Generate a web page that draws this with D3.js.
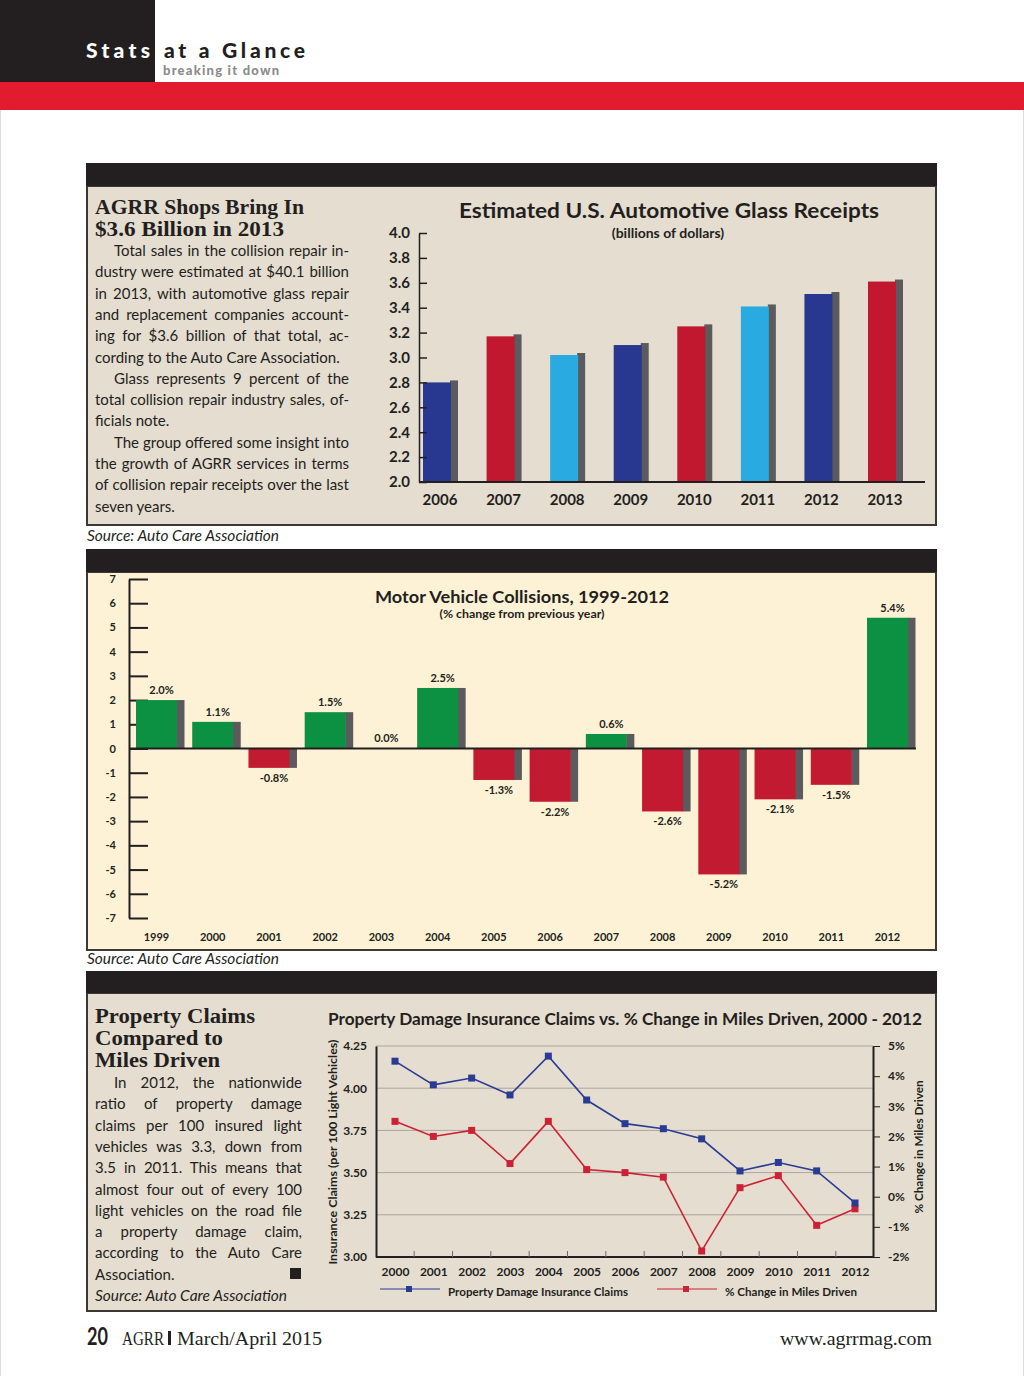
<!DOCTYPE html>
<html>
<head>
<meta charset="utf-8">
<script src="https://cdn.jsdelivr.net/npm/d3@7"></script>
<style>
  body { margin: 0; background: #fff; }
  svg { display: block; }
</style>
</head>
<body>
<div id="page"></div>
<script>
// ---- data ----
const glassYears = ["2006", "2007", "2008", "2009", "2010", "2011", "2012", "2013"];
const glassValues = [2.80, 3.17, 3.02, 3.10, 3.25, 3.41, 3.51, 3.61];
const glassTicks = [2.0, 2.2, 2.4, 2.6, 2.8, 3.0, 3.2, 3.4, 3.6, 3.8, 4.0];

const collisionYears = ["1999", "2000", "2001", "2002", "2003", "2004", "2005",
  "2006", "2007", "2008", "2009", "2010", "2011", "2012"];
const collisionValues = [2.0, 1.1, -0.8, 1.5, 0.0, 2.5, -1.3, -2.2, 0.6, -2.6, -5.2, -2.1, -1.5, 5.4];
const collisionTicks = [7, 6, 5, 4, 3, 2, 1, 0, -1, -2, -3, -4, -5, -6, -7];

const claimYears = ["2000", "2001", "2002", "2003", "2004", "2005", "2006",
  "2007", "2008", "2009", "2010", "2011", "2012"];
const claimValues = [4.16, 4.02, 4.06, 3.96, 4.19, 3.93, 3.79, 3.76, 3.70, 3.51, 3.56, 3.51, 3.32];
const milesValues = [2.5, 2.0, 2.2, 1.1, 2.5, 0.9, 0.8, 0.65, -1.8, 0.3, 0.7, -0.95, -0.4];
const claimTicks = [3.00, 3.25, 3.50, 3.75, 4.00, 4.25];
const milesTicks = [-2, -1, 0, 1, 2, 3, 4, 5];

const story1 = [
  { t: "Total sales in the collision repair in-", indent: true, j: true },
  { t: "dustry were estimated at $40.1 billion", j: true },
  { t: "in 2013, with automotive glass repair", j: true },
  { t: "and replacement companies account-", j: true },
  { t: "ing for $3.6 billion of that total, ac-", j: true },
  { t: "cording to the Auto Care Association.", j: false },
  { t: "Glass represents 9 percent of the", indent: true, j: true },
  { t: "total collision repair industry sales, of-", j: true },
  { t: "ficials note.", j: false },
  { t: "The group offered some insight into", indent: true, j: true },
  { t: "the growth of AGRR services in terms", j: true },
  { t: "of collision repair receipts over the last", j: true },
  { t: "seven years.", j: false }
];
const story3 = [
  { t: "In 2012, the nationwide", indent: true, j: true },
  { t: "ratio of property damage", j: true },
  { t: "claims per 100 insured light", j: true },
  { t: "vehicles was 3.3, down from", j: true },
  { t: "3.5 in 2011. This means that", j: true },
  { t: "almost four out of every 100", j: true },
  { t: "light vehicles on the road file", j: true },
  { t: "a property damage claim,", j: true },
  { t: "according to the Auto Care", j: true },
  { t: "Association.", j: false }
];

// ---- styles ----
const ink = "#231f20";
const beige = "#e5ddd0";
const cream = "#fdf2d5";
const shadowGray = "#5b5a5c";
const glassPalette = ["#283891", "#c1172f", "#29aae1"];
const green = "#0c9142";
const red = "#c21a30";
const chartFont = "Lato, 'Open Sans', sans-serif";
const serif = "'Liberation Serif', 'DejaVu Serif', serif";

const svg = d3.select("#page").append("svg")
  .attr("width", 1024)
  .attr("height", 1376)
  .style("background", "#fff");

// page edges
svg.append("line").attr("x1", 0.5).attr("x2", 0.5).attr("y1", 110).attr("y2", 1376)
  .attr("stroke", "#ddd");
svg.append("line").attr("x1", 1023.5).attr("x2", 1023.5).attr("y1", 110).attr("y2", 1376)
  .attr("stroke", "#ddd");

// ---- header ----
svg.append("rect").attr("x", 0).attr("y", 0).attr("width", 155).attr("height", 82).attr("fill", ink);
svg.append("rect").attr("x", 0).attr("y", 82).attr("width", 1024).attr("height", 28).attr("fill", "#e31b2e");
svg.append("text").attr("x", 86).attr("y", 58).text("Stats")
  .attr("fill", "#fff").style("font", `900 21px ${chartFont}`)
  .attr("textLength", 64).attr("lengthAdjust", "spacing");
svg.append("text").attr("x", 164).attr("y", 58).text("at a Glance")
  .attr("fill", ink).style("font", `900 21px ${chartFont}`)
  .attr("textLength", 141).attr("lengthAdjust", "spacing");
svg.append("text").attr("x", 163).attr("y", 75).text("breaking it down")
  .attr("fill", "#8c8c8c").style("font", `900 13px ${chartFont}`)
  .attr("textLength", 116).attr("lengthAdjust", "spacing");

// ---- helpers ----
function panel(top, barBottom, bottom, fill) {
  svg.append("rect").attr("x", 87).attr("y", barBottom).attr("width", 849)
    .attr("height", bottom - barBottom).attr("fill", fill)
    .attr("stroke", "#3b3836").attr("stroke-width", 2);
  svg.append("rect").attr("x", 86).attr("y", top).attr("width", 851)
    .attr("height", barBottom - top).attr("fill", ink);
}

function story(lines, x, width, y0, lh, indent) {
  lines.forEach((l, i) => {
    const lx = x + (l.indent ? indent : 0);
    const w = width - (l.indent ? indent : 0);
    const t = svg.append("text")
      .attr("x", lx).attr("y", y0 + i * lh)
      .attr("fill", ink)
      .style("font", `400 15px ${chartFont}`)
      .text(l.t);
    const nat = t.node().getComputedTextLength();
    const spaces = (l.t.match(/ /g) || []).length;
    if (l.j && nat < w && spaces) {
      t.style("word-spacing", `${(w - nat) / spaces}px`);
    } else if (nat > w) {
      t.attr("textLength", w).attr("lengthAdjust", "spacingAndGlyphs");
    }
  });
}

function headline(lines, x, y0, lh, widths) {
  lines.forEach((s, i) => {
    svg.append("text").attr("x", x).attr("y", y0 + i * lh).text(s)
      .attr("fill", ink).style("font", `700 20px ${serif}`)
      .attr("textLength", widths[i]).attr("lengthAdjust", "spacingAndGlyphs");
  });
}

function source(x, y) {
  svg.append("text").attr("x", x).attr("y", y).text("Source: Auto Care Association")
    .attr("fill", ink).style("font", `italic 400 15px ${chartFont}`)
    .attr("textLength", 192).attr("lengthAdjust", "spacingAndGlyphs");
}

function styleAxis(g, size) {
  g.attr("font-family", null).attr("font-size", null);
  g.selectAll("text").attr("fill", ink).style("font", `700 ${size}px ${chartFont}`);
  g.selectAll("line, path").attr("stroke", ink);
}

// ================= Panel 1 =================
panel(163, 186, 525, beige);
headline(["AGRR Shops Bring In", "$3.6 Billion in 2013"], 95, 213.5, 22.2, [209, 189]);
story(story1, 95, 254, 256, 21.3, 19);
source(87, 541);

{
  const x = d3.scalePoint().domain(glassYears).range([437, 882]);
  const y = d3.scaleLinear().domain([2, 4]).range([482, 233]);
  const bw = 28;

  svg.append("text").attr("x", 669).attr("y", 218).attr("text-anchor", "middle")
    .text("Estimated U.S. Automotive Glass Receipts")
    .attr("fill", ink).style("font", `700 21px ${chartFont}`)
    .attr("textLength", 420).attr("lengthAdjust", "spacingAndGlyphs");
  svg.append("text").attr("x", 668).attr("y", 238).attr("text-anchor", "middle")
    .text("(billions of dollars)")
    .attr("fill", ink).style("font", `700 14px ${chartFont}`);

  const bars = svg.append("g");
  bars.selectAll("rect.shadow").data(glassValues).enter().append("rect")
    .attr("class", "shadow")
    .attr("x", (d, i) => x(glassYears[i]) + bw / 2 - 1)
    .attr("y", d => y(d) - 2)
    .attr("width", 8)
    .attr("height", d => y(2) - y(d) + 2)
    .attr("fill", shadowGray);
  bars.selectAll("rect.bar").data(glassValues).enter().append("rect")
    .attr("class", "bar")
    .attr("x", (d, i) => x(glassYears[i]) - bw / 2)
    .attr("y", d => y(d))
    .attr("width", bw)
    .attr("height", d => y(2) - y(d))
    .attr("fill", (d, i) => glassPalette[i % 3]);

  const ya = svg.append("g").attr("transform", "translate(419,0)")
    .call(d3.axisLeft(y).tickValues(glassTicks).tickSize(-8).tickSizeOuter(0)
      .tickPadding(9).tickFormat(d3.format(".1f")));
  styleAxis(ya, 15);
  ya.selectAll("line, path").attr("stroke-width", 1.5);

  svg.append("line").attr("x1", 419).attr("x2", 925).attr("y1", y(2)).attr("y2", y(2))
    .attr("stroke", ink).attr("stroke-width", 2);

  svg.append("g").selectAll("text").data(glassYears).enter().append("text")
    .attr("x", d => x(d) + 3).attr("y", 505).attr("text-anchor", "middle")
    .text(d => d).attr("fill", ink).style("font", `700 15px ${chartFont}`);
}

// ================= Panel 2 =================
panel(549, 572, 950, cream);
source(87, 964);

{
  const x = d3.scalePoint().domain(collisionYears).range([156.5, 887.5]);
  const y = d3.scaleLinear().domain([-7, 7]).range([918, 579]);
  const bw = 41;

  svg.append("text").attr("x", 522).attr("y", 603).attr("text-anchor", "middle")
    .text("Motor Vehicle Collisions, 1999-2012")
    .attr("fill", ink).style("font", `700 17px ${chartFont}`)
    .attr("textLength", 294).attr("lengthAdjust", "spacingAndGlyphs");
  svg.append("text").attr("x", 522).attr("y", 618).attr("text-anchor", "middle")
    .text("(% change from previous year)")
    .attr("fill", ink).style("font", `700 11px ${chartFont}`)
    .attr("textLength", 165).attr("lengthAdjust", "spacingAndGlyphs");

  const ya = svg.append("g").attr("transform", "translate(129,0)")
    .call(d3.axisLeft(y).tickValues(collisionTicks).tickSize(-19).tickSizeOuter(0)
      .tickPadding(13).tickFormat(d => String(d)));
  styleAxis(ya, 11);
  ya.selectAll("line, path").attr("stroke-width", 2);

  const bars = svg.append("g");
  bars.selectAll("rect.shadow").data(collisionValues).enter().append("rect")
    .attr("class", "shadow")
    .attr("x", (d, i) => x(collisionYears[i]) + bw / 2 - 0.5)
    .attr("y", d => Math.min(y(d), y(0)))
    .attr("width", 8)
    .attr("height", d => Math.abs(y(d) - y(0)))
    .attr("fill", shadowGray);
  bars.selectAll("rect.bar").data(collisionValues).enter().append("rect")
    .attr("class", "bar")
    .attr("x", (d, i) => x(collisionYears[i]) - bw / 2)
    .attr("y", d => Math.min(y(d), y(0)))
    .attr("width", bw)
    .attr("height", d => Math.abs(y(d) - y(0)))
    .attr("fill", d => d >= 0 ? green : red);

  svg.append("line").attr("x1", 129).attr("x2", 916).attr("y1", y(0)).attr("y2", y(0))
    .attr("stroke", ink).attr("stroke-width", 2);

  svg.append("g").selectAll("text").data(collisionValues).enter().append("text")
    .attr("x", (d, i) => x(collisionYears[i]) + 5)
    .attr("y", d => d > 0 ? y(d) - 6 : d < 0 ? y(d) + 14 : y(0) - 7)
    .attr("text-anchor", "middle")
    .text(d => d.toFixed(1) + "%")
    .attr("fill", ink).style("font", `700 11px ${chartFont}`);

  svg.append("g").selectAll("text").data(collisionYears).enter().append("text")
    .attr("x", d => x(d)).attr("y", 941).attr("text-anchor", "middle")
    .text(d => d).attr("fill", ink).style("font", `700 11px ${chartFont}`);
}

// ================= Panel 3 =================
panel(971, 993, 1311, beige);
headline(["Property Claims", "Compared to", "Miles Driven"], 95, 1023, 22.2, [160, 128, 125]);
story(story3, 95, 207, 1088, 21.3, 19);
svg.append("rect").attr("x", 290).attr("y", 1268).attr("width", 11).attr("height", 11).attr("fill", ink);
source(95, 1301);

{
  const x = d3.scalePoint().domain(claimYears).range([395, 855]);
  const yL = d3.scaleLinear().domain([3, 4.25]).range([1257, 1046]);
  const yR = d3.scaleLinear().domain([-2, 5]).range([1257, 1046]);
  const left = 376, right = 873;
  const blue = "#2a3b93", red3 = "#cc2236";

  svg.append("text").attr("x", 328).attr("y", 1025)
    .text("Property Damage Insurance Claims vs. % Change in Miles Driven, 2000 - 2012")
    .attr("fill", ink).style("font", `700 17px ${chartFont}`)
    .attr("textLength", 594).attr("lengthAdjust", "spacingAndGlyphs");

  // gridlines
  svg.append("g").selectAll("line").data(claimTicks.slice(1)).enter().append("line")
    .attr("x1", left).attr("x2", right)
    .attr("y1", d => yL(d)).attr("y2", d => yL(d))
    .attr("stroke", "#aaa59d").attr("stroke-width", 1);

  const yaL = svg.append("g").attr("transform", `translate(${left},0)`)
    .call(d3.axisLeft(yL).tickValues(claimTicks).tickSize(0).tickPadding(9)
      .tickFormat(d3.format(".2f")));
  styleAxis(yaL, 12);
  yaL.select("path").attr("stroke-width", 2);

  const yaR = svg.append("g").attr("transform", `translate(${right},0)`)
    .call(d3.axisRight(yR).tickValues(milesTicks).tickSize(7).tickSizeOuter(0).tickPadding(8)
      .tickFormat(d => d + "%"));
  styleAxis(yaR, 12);
  yaR.select("path").attr("stroke-width", 2);

  const xa = svg.append("g").attr("transform", "translate(0,1257)")
    .call(d3.axisBottom(x).tickSize(0).tickPadding(10));
  styleAxis(xa, 12);
  xa.select("path").remove();
  svg.append("line").attr("x1", left).attr("x2", right).attr("y1", 1257).attr("y2", 1257)
    .attr("stroke", ink).attr("stroke-width", 2);
  // ticks between years
  svg.append("g").selectAll("line").data(claimYears.slice(1)).enter().append("line")
    .attr("x1", (d, i) => (x(d) + x(claimYears[i])) / 2)
    .attr("x2", (d, i) => (x(d) + x(claimYears[i])) / 2)
    .attr("y1", 1257).attr("y2", 1251)
    .attr("stroke", "#6d6a66").attr("stroke-width", 1);

  svg.append("text")
    .attr("transform", "translate(337,1152) rotate(-90)")
    .attr("text-anchor", "middle")
    .text("Insurance Claims (per 100 Light Vehicles)")
    .attr("fill", ink).style("font", `700 12px ${chartFont}`)
    .attr("textLength", 225).attr("lengthAdjust", "spacingAndGlyphs");
  svg.append("text")
    .attr("transform", "translate(923,1147) rotate(-90)")
    .attr("text-anchor", "middle")
    .text("% Change in Miles Driven")
    .attr("fill", ink).style("font", `700 12px ${chartFont}`)
    .attr("textLength", 133).attr("lengthAdjust", "spacingAndGlyphs");

  const lineL = d3.line().x((d, i) => x(claimYears[i])).y(d => yL(d));
  const lineR = d3.line().x((d, i) => x(claimYears[i])).y(d => yR(d));

  svg.append("path").datum(milesValues).attr("d", lineR)
    .attr("fill", "none").attr("stroke", red3).attr("stroke-width", 1.6);
  svg.append("g").selectAll("rect").data(milesValues).enter().append("rect")
    .attr("x", (d, i) => x(claimYears[i]) - 3.5).attr("y", d => yR(d) - 3.5)
    .attr("width", 7).attr("height", 7).attr("fill", red3);

  svg.append("path").datum(claimValues).attr("d", lineL)
    .attr("fill", "none").attr("stroke", blue).attr("stroke-width", 1.6);
  svg.append("g").selectAll("rect").data(claimValues).enter().append("rect")
    .attr("x", (d, i) => x(claimYears[i]) - 3.5).attr("y", d => yL(d) - 3.5)
    .attr("width", 7).attr("height", 7).attr("fill", blue);

  // legend
  const legend = [
    { label: "Property Damage Insurance Claims", color: blue, x: 380, tw: 180 },
    { label: "% Change in Miles Driven", color: red3, x: 657, tw: 132 }
  ];
  const lg = svg.append("g").selectAll("g").data(legend).enter().append("g");
  lg.append("line").attr("x1", d => d.x).attr("x2", d => d.x + 60)
    .attr("y1", 1289).attr("y2", 1289).attr("stroke", d => d.color).attr("stroke-width", 1);
  lg.append("rect").attr("x", d => d.x + 26).attr("y", 1286)
    .attr("width", 6).attr("height", 6).attr("fill", d => d.color);
  lg.append("text").attr("x", d => d.x + 68).attr("y", 1296).text(d => d.label)
    .attr("fill", ink).style("font", `700 12px ${chartFont}`)
    .attr("textLength", d => d.tw).attr("lengthAdjust", "spacingAndGlyphs");
}

// ---- footer ----
svg.append("text").attr("x", 87).attr("y", 1345).text("20")
  .attr("fill", ink).style("font", `700 24px ${chartFont}`)
  .attr("textLength", 21).attr("lengthAdjust", "spacingAndGlyphs");
svg.append("text").attr("x", 122).attr("y", 1345).text("AGRR")
  .attr("fill", ink).style("font", `400 19px ${serif}`)
  .attr("textLength", 42).attr("lengthAdjust", "spacingAndGlyphs");
svg.append("rect").attr("x", 168).attr("y", 1331).attr("width", 3).attr("height", 14).attr("fill", ink);
svg.append("text").attr("x", 177).attr("y", 1345).text("March/April 2015")
  .attr("fill", ink).style("font", `400 19px ${serif}`)
  .attr("textLength", 145).attr("lengthAdjust", "spacingAndGlyphs");
svg.append("text").attr("x", 932).attr("y", 1345).attr("text-anchor", "end")
  .text("www.agrrmag.com").attr("fill", ink).style("font", `400 19px ${serif}`)
  .attr("textLength", 152).attr("lengthAdjust", "spacingAndGlyphs");
</script>
</body>
</html>
